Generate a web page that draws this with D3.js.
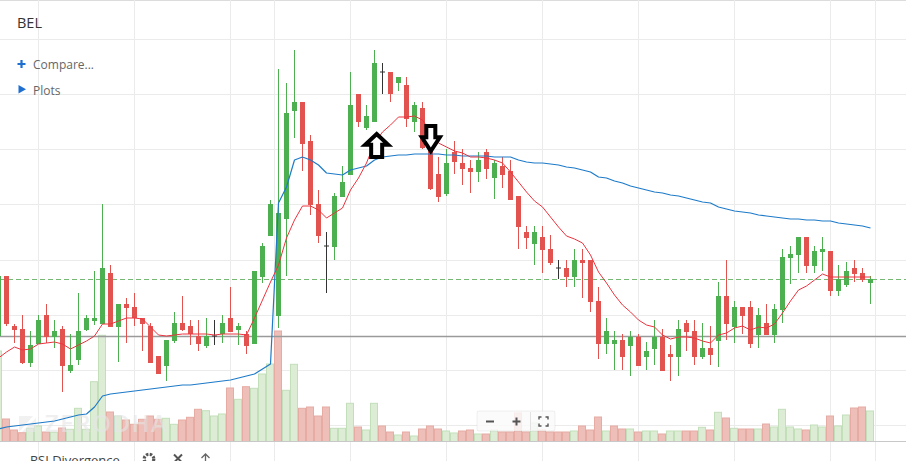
<!DOCTYPE html>
<html><head><meta charset="utf-8">
<script src="https://cdn.jsdelivr.net/npm/d3@7"></script>
<style>
html,body{margin:0;padding:0;background:#fff;overflow:hidden}
svg{display:block}
</style></head><body>
<svg id="c" width="906" height="461"></svg>
<script>
// ---------------- DATA ----------------
const symbol = "BEL";
const opens = [
101.64, 102.24, 101.74, 101.71, 101.37, 101.56, 101.85, 101.63, 101.71, 101.29,
101.40, 101.70, 101.79, 101.76, 102.27, 101.73, 101.96, 101.93, 101.82, 101.74,
101.44, 101.34, 101.59, 101.77, 101.74, 101.64, 101.54, 101.64, 101.66, 101.82,
101.70, 101.66, 101.56, 102.23, 102.64, 101.84, 102.81, 103.89, 103.98, 103.59,
102.96, 102.54, 102.53, 103.03, 103.25, 104.06, 103.72, 103.78, 104.28, 104.28,
104.17, 104.15, 103.78, 103.92, 103.60, 103.26, 103.06, 103.48, 103.37, 103.32,
103.28, 103.48, 103.22, 103.34, 103.29, 103.04, 102.68, 102.56, 102.63, 102.51,
102.32, 102.32, 102.23, 102.40, 102.40, 101.99, 101.56, 101.56, 101.60, 101.54,
101.63, 101.43, 101.51, 101.63, 101.46, 101.43, 101.77, 101.69, 101.43, 101.52,
101.59, 102.04, 101.73, 101.93, 101.93, 101.65, 101.77, 101.65, 101.90, 102.42,
102.45, 102.63, 102.34, 102.48, 102.49, 102.09, 102.15, 102.32, 102.27, 102.17
];
const highs = [
102.26, 102.24, 101.76, 101.85, 101.69, 101.85, 101.96, 101.80, 101.74, 101.66,
102.07, 101.85, 102.29, 102.96, 102.35, 101.96, 102.02, 102.07, 101.82, 101.77,
101.44, 101.60, 101.88, 102.04, 101.80, 101.80, 101.82, 101.80, 101.85, 102.13,
101.77, 101.69, 102.29, 102.57, 103.00, 104.31, 104.17, 104.50, 103.98, 103.65,
103.10, 102.68, 103.07, 103.34, 104.28, 104.06, 103.95, 104.50, 104.37, 104.28,
104.23, 104.23, 103.98, 103.98, 103.63, 103.43, 103.51, 103.59, 103.51, 103.40,
103.48, 103.51, 103.40, 103.43, 103.40, 103.04, 102.74, 102.74, 102.74, 102.65,
102.40, 102.40, 102.51, 102.51, 102.40, 102.13, 101.82, 101.69, 101.66, 101.69,
101.66, 101.58, 101.80, 101.71, 101.55, 101.80, 101.80, 101.80, 101.77, 101.74,
102.18, 102.40, 101.99, 101.93, 101.99, 101.92, 101.96, 101.96, 102.51, 102.54,
102.63, 102.63, 102.54, 102.63, 102.49, 102.35, 102.38, 102.40, 102.32, 102.24
];
const lows = [
101.62, 101.74, 101.57, 101.36, 101.33, 101.56, 101.57, 101.52, 101.08, 101.27,
101.35, 101.69, 101.75, 101.76, 101.73, 101.38, 101.57, 101.74, 101.49, 101.37,
101.26, 101.19, 101.57, 101.69, 101.55, 101.49, 101.52, 101.55, 101.57, 101.68,
101.55, 101.46, 101.56, 102.17, 102.64, 101.72, 102.24, 103.62, 103.29, 102.85,
102.57, 102.07, 102.40, 103.03, 103.25, 103.73, 103.70, 103.78, 104.06, 103.98,
104.09, 103.73, 103.68, 103.51, 103.10, 102.98, 103.04, 103.26, 103.15, 103.07,
103.18, 103.21, 103.01, 103.12, 103.00, 102.51, 102.51, 102.35, 102.27, 102.35,
102.21, 102.13, 102.13, 102.02, 101.88, 101.41, 101.46, 101.30, 101.30, 101.24,
101.34, 101.30, 101.35, 101.29, 101.19, 101.24, 101.49, 101.35, 101.41, 101.35,
101.33, 101.60, 101.57, 101.66, 101.52, 101.52, 101.65, 101.57, 101.77, 102.16,
102.27, 102.27, 102.27, 102.29, 102.04, 102.04, 102.13, 102.18, 102.18, 101.96
];
const closes = [
102.24, 101.76, 101.70, 101.37, 101.55, 101.80, 101.63, 101.69, 101.34, 101.35,
101.69, 101.82, 101.82, 102.32, 101.73, 101.96, 101.92, 101.82, 101.76, 101.37,
101.26, 101.60, 101.77, 101.70, 101.66, 101.56, 101.64, 101.64, 101.77, 101.68,
101.74, 101.54, 102.29, 102.54, 102.96, 102.87, 103.87, 103.98, 103.56, 102.95,
102.64, 102.54, 103.04, 103.18, 103.95, 103.78, 103.84, 104.37, 104.28, 104.06,
104.23, 103.81, 103.95, 103.52, 103.11, 103.03, 103.37, 103.38, 103.31, 103.28,
103.40, 103.31, 103.37, 103.25, 103.00, 102.73, 102.62, 102.68, 102.50, 102.37,
102.32, 102.23, 102.40, 102.37, 101.98, 101.56, 101.69, 101.60, 101.43, 101.63,
101.34, 101.49, 101.63, 101.29, 101.43, 101.71, 101.68, 101.43, 101.52, 101.45,
102.04, 101.76, 101.93, 101.84, 101.56, 101.85, 101.65, 101.91, 102.43, 102.46,
102.63, 102.34, 102.49, 102.51, 102.09, 102.21, 102.29, 102.26, 102.20, 102.21
];
// volume in thousands of shares
const volumes = [
905, 225, 115, 88, 132, 155, 95, 92, 135, 122,
332, 122, 598, 1062, 295, 255, 215, 172, 222, 255,
222, 232, 172, 215, 242, 322, 308, 255, 275, 535,
422, 548, 532, 675, 775, 1105, 512, 772, 332, 345,
255, 345, 132, 132, 382, 145, 115, 382, 155, 95,
65, 95, 55, 125, 155, 125, 105, 85, 105, 115,
75, 75, 115, 95, 95, 285, 95, 185, 115, 95,
95, 95, 105, 155, 115, 245, 105, 155, 125, 125,
95, 105, 105, 75, 105, 105, 105, 105, 142, 115,
292, 235, 132, 125, 125, 125, 175, 145, 322, 145,
125, 115, 165, 145, 255, 155, 265, 335, 345, 305
];
// short moving average (red)
const maShort = [
101.42, 101.48, 101.53, 101.50, 101.51, 101.56, 101.57, 101.58, 101.56, 101.51,
101.55, 101.59, 101.64, 101.76, 101.76, 101.79, 101.82, 101.82, 101.81, 101.73,
101.65, 101.64, 101.65, 101.66, 101.66, 101.66, 101.66, 101.65, 101.66, 101.66,
101.66, 101.65, 101.82, 102.00, 102.18, 102.35, 102.62, 102.80, 102.94, 102.94,
102.90, 102.82, 102.87, 102.92, 103.10, 103.22, 103.37, 103.57, 103.68, 103.75,
103.83, 103.83, 103.84, 103.80, 103.68, 103.57, 103.53, 103.49, 103.47, 103.43,
103.43, 103.42, 103.40, 103.37, 103.28, 103.18, 103.08, 102.99, 102.93, 102.83,
102.73, 102.64, 102.61, 102.57, 102.45, 102.28, 102.17, 102.05, 101.95, 101.88,
101.80, 101.75, 101.73, 101.65, 101.61, 101.63, 101.63, 101.62, 101.59, 101.57,
101.65, 101.67, 101.72, 101.74, 101.70, 101.73, 101.72, 101.76, 101.87, 101.99,
102.10, 102.14, 102.20, 102.26, 102.23, 102.23, 102.23, 102.23, 102.23, 102.23
];
// long moving average (blue)
const maLong = [
100.71, 100.73, 100.74, 100.75, 100.76, 100.77, 100.78, 100.79, 100.81, 100.83,
100.85, 100.86, 100.93, 101.04, 101.06, 101.07, 101.08, 101.09, 101.10, 101.11,
101.12, 101.13, 101.14, 101.15, 101.15, 101.16, 101.17, 101.18, 101.19, 101.20,
101.22, 101.24, 101.26, 101.31, 101.36, 102.97, 103.13, 103.40, 103.43, 103.40,
103.35, 103.27, 103.26, 103.25, 103.30, 103.32, 103.34, 103.40, 103.43, 103.44,
103.45, 103.45, 103.46, 103.46, 103.46, 103.46, 103.45, 103.45, 103.44, 103.44,
103.44, 103.44, 103.43, 103.43, 103.43, 103.40, 103.38, 103.37, 103.37, 103.36,
103.35, 103.33, 103.32, 103.30, 103.28, 103.23, 103.22, 103.19, 103.17, 103.14,
103.12, 103.10, 103.08, 103.07, 103.05, 103.04, 103.02, 103.00, 102.98, 102.97,
102.93, 102.91, 102.89, 102.88, 102.87, 102.85, 102.84, 102.83, 102.82, 102.81,
102.81, 102.80, 102.80, 102.79, 102.79, 102.77, 102.76, 102.75, 102.74, 102.72
];
// horizontal price grid levels and vertical time grid (bar index)
const priceGrid = [100.75, 101.30, 101.85, 102.397, 102.957, 103.507, 104.06, 104.615];
const timeGridIdx = [5, 17, 29, 34.5, 44, 56, 68, 80, 92, 104, 109.625];
const prevClosePrice = 102.205;   // dashed reference line
const hLinePrice = 101.635;       // drawn horizontal line
const arrowMarks = [
  {dir: "up",   idx: 47.27, top: 103.68, bottom: 103.41},
  {dir: "down", idx: 54.04, top: 103.76, bottom: 103.47}
];
const menuItems = ["Compare...", "Plots"];
const lowerPanelTitle = "RSI Divergence";

// ---------------- CHART ----------------
const W = 906, H = 461;
const svg = d3.select("#c");
const n = opens.length;
const data = d3.range(n).map(k => ({k, o: opens[k], h: highs[k], l: lows[k], c: closes[k], v: volumes[k],
  prevC: k > 0 ? closes[k-1] : opens[k]}));

const x = d3.scaleLinear().domain([0, n - 1]).range([-1.5, -1.5 + 8 * (n - 1)]);
const y = d3.scaleLinear().domain([105, 100]).range([0, 500]);
const yv = d3.scaleLinear().domain([0, 1000]).range([441.5, 341.5]);

const UP = "#4caf50", DN = "#e2534f", DOJI = "#333";
const font = "'Open Sans', 'Noto Sans', sans-serif";

// top border
svg.append("line").attr("x1", 0).attr("x2", W).attr("y1", 0.5).attr("y2", 0.5).attr("stroke", "#dcdcdc");

// grid
const grid = svg.append("g");
grid.selectAll(".hg").data(priceGrid).join("line")
  .attr("x1", 0).attr("x2", W)
  .attr("y1", d => Math.round(y(d)) + 0.5).attr("y2", d => Math.round(y(d)) + 0.5)
  .attr("stroke", "#ebebeb").attr("stroke-width", 1);
grid.selectAll(".vg").data(timeGridIdx).join("line")
  .attr("x1", d => Math.floor(x(d)) + 0.5).attr("x2", d => Math.floor(x(d)) + 0.5)
  .attr("y1", 0).attr("y2", H)
  .attr("stroke", "#ebebeb").attr("stroke-width", 1);

// volume bars
svg.append("g").selectAll("rect").data(data).join("rect")
  .attr("x", d => x(d.k) - 4)
  .attr("width", 7)
  .attr("y", d => yv(d.v))
  .attr("height", d => yv(0) - yv(d.v))
  .attr("fill", d => d.c >= d.prevC ? "#dcecd5" : "#edbfb8")
  .attr("stroke", d => d.c >= d.prevC ? "#c2dfba" : "#e6aca4")
  .attr("stroke-width", 1);

// watermark
const wm = svg.append("g").attr("opacity", 0.6);
wm.append("path").attr("d", "M19,432 L19,416 L33,416 Z M22,432 L36,418 L36,432 Z").attr("fill", "#e8e8e8");
wm.append("text").attr("x", 45).attr("y", 432).text("ZERODHA")
  .attr("font-family", font).attr("font-size", 24).attr("font-weight", 600)
  .attr("letter-spacing", 1.5).attr("fill", "#e6e6e6");

// reference lines
svg.append("line").attr("x1", 0).attr("x2", W)
  .attr("y1", y(prevClosePrice)).attr("y2", y(prevClosePrice))
  .attr("stroke", "#74b874").attr("stroke-width", 1).attr("stroke-dasharray", "5,3");
svg.append("line").attr("x1", 0).attr("x2", W)
  .attr("y1", y(hLinePrice)).attr("y2", y(hLinePrice))
  .attr("stroke", "#9a9a9a").attr("stroke-width", 1.5);

// candles
const cg = svg.append("g");
const col = d => d.c > d.o ? UP : (d.c < d.o ? DN : DOJI);
cg.selectAll("line").data(data).join("line")
  .attr("x1", d => x(d.k)).attr("x2", d => x(d.k))
  .attr("y1", d => y(d.h)).attr("y2", d => y(d.l))
  .attr("stroke", col).attr("stroke-width", 1);
cg.selectAll("rect").data(data).join("rect")
  .attr("x", d => x(d.k) - 2.5).attr("width", 5)
  .attr("y", d => d.c === d.o ? y(d.o) - 0.5 : y(Math.max(d.o, d.c)))
  .attr("height", d => Math.max(1, Math.abs(y(d.o) - y(d.c))))
  .attr("fill", col);

// moving averages
const lineGen = arr => d3.line().x((d, i) => x(i)).y(d => y(d))(arr);
svg.append("path").attr("d", lineGen(maLong)).attr("fill", "none")
  .attr("stroke", "#1f7bc8").attr("stroke-width", 1.2).attr("stroke-linejoin", "round");
svg.append("path").attr("d", lineGen(maShort)).attr("fill", "none")
  .attr("stroke", "#ec3440").attr("stroke-width", 1).attr("stroke-linejoin", "round");

// arrow markers
const arrowShape = {up: {head: 11.5, shaft: 5.5}, down: {head: 9, shaft: 4.5}};
svg.append("g").selectAll("path").data(arrowMarks).join("path")
  .attr("d", d => {
    const cx = x(d.idx), s = arrowShape[d.dir];
    const t = y(d.top) + 2, b = y(d.bottom) - 2;
    if (d.dir === "up") {
      const hb = t + (b - t) * 0.47;
      return `M${cx},${t} L${cx + s.head},${hb} L${cx + s.shaft},${hb} L${cx + s.shaft},${b} L${cx - s.shaft},${b} L${cx - s.shaft},${hb} L${cx - s.head},${hb} Z`;
    } else {
      const hb = t + (b - t) * 0.45;
      return `M${cx - s.shaft},${t} L${cx + s.shaft},${t} L${cx + s.shaft},${hb} L${cx + s.head},${hb} L${cx},${b} L${cx - s.head},${hb} L${cx - s.shaft},${hb} Z`;
    }
  })
  .attr("fill", "#fff").attr("stroke", "#000").attr("stroke-width", 4).attr("stroke-linejoin", "miter");

// header texts
svg.append("text").attr("x", 17).attr("y", 28).text(symbol)
  .attr("font-family", font).attr("font-size", 14.5).attr("fill", "#333");
const blue = "#1f6fd1";
svg.append("path").attr("d", "M17.5,64 H25.5 M21.5,60 V68").attr("stroke", blue).attr("stroke-width", 2.2);
svg.append("path").attr("d", "M18.5,85 L26,89.2 L18.5,93.4 Z").attr("fill", blue);
svg.selectAll(".menu").data(menuItems).join("text")
  .attr("x", 33).attr("y", (d, i) => 68.5 + i * 26.5).text(d => d)
  .attr("font-family", font).attr("font-size", 12).attr("fill", "#666");

// zoom control
const zc = svg.append("g");
zc.append("rect").attr("x", 477).attr("y", 411).attr("width", 78).attr("height", 20).attr("rx", 2)
  .attr("fill", "rgba(250,250,250,0.82)").attr("stroke", "rgba(0,0,0,0.06)");
zc.append("path").attr("d", "M486,421.5 H494").attr("stroke", "#555").attr("stroke-width", 2);
zc.append("path").attr("d", "M512.5,421.5 H520.5 M516.5,417.5 V425.5").attr("stroke", "#555").attr("stroke-width", 2);
zc.append("line").attr("x1", 530.5).attr("x2", 530.5).attr("y1", 412).attr("y2", 430).attr("stroke", "#e2e2e2");
zc.append("path").attr("d", "M539,419.5 V417 H541.5 M545.5,417 H548 V419.5 M548,423.5 V426 H545.5 M541.5,426 H539 V423.5")
  .attr("fill", "none").attr("stroke", "#555").attr("stroke-width", 1.4);

// lower panel header
svg.append("line").attr("x1", 0).attr("x2", W).attr("y1", 441.5).attr("y2", 441.5).attr("stroke", "#c8c8c8");
svg.append("rect").attr("x", 0).attr("y", 442).attr("width", W).attr("height", 19).attr("fill", "#fff");
svg.append("g").selectAll("line").data(timeGridIdx).join("line")
  .attr("x1", d => Math.floor(x(d)) + 0.5).attr("x2", d => Math.floor(x(d)) + 0.5)
  .attr("y1", 442).attr("y2", H).attr("stroke", "#ebebeb");
svg.append("text").attr("x", 30).attr("y", 465).text(lowerPanelTitle)
  .attr("font-family", font).attr("font-size", 13).attr("fill", "#444");
svg.append("circle").attr("cx", 149).attr("cy", 459).attr("r", 4.8)
  .attr("fill", "none").attr("stroke", "#555").attr("stroke-width", 3.2).attr("stroke-dasharray", "2.4,1.4");
svg.append("circle").attr("cx", 149).attr("cy", 459).attr("r", 1.6).attr("fill", "#fff");
svg.append("path").attr("d", "M174,454.5 L182,462.5 M182,454.5 L174,462.5").attr("stroke", "#555").attr("stroke-width", 2);
svg.append("path").attr("d", "M205.5,454 V462 M201.5,458 L205.5,454 L209.5,458").attr("fill", "none").attr("stroke", "#666").attr("stroke-width", 1.3);
</script>
</body></html>
